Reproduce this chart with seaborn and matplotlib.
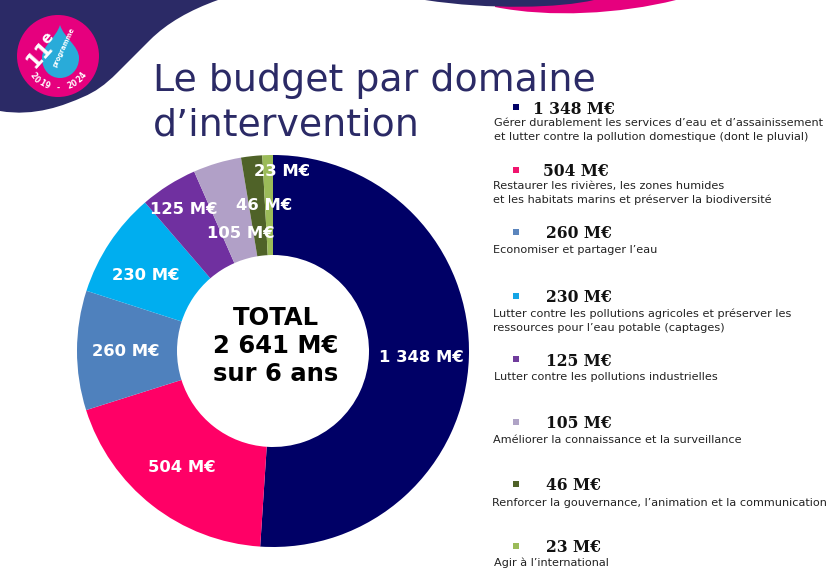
import numpy as np
import matplotlib.pyplot as plt
from matplotlib.patches import Circle, PathPatch, Rectangle
from matplotlib.path import Path
import seaborn as sns

values = [1348, 504, 260, 230, 125, 105, 46, 23]
slice_labels = ['1 348 M€', '504 M€', '260 M€', '230 M€', '125 M€', '105 M€', '46 M€', '23 M€']
slice_colors = ['#000066', '#FF0066', '#4F81BD', '#00AEEF', '#7030A0', '#B1A0C7', '#4F6228', '#9BBB59']

legend_colors = ['#000066', '#F0146E', '#5B85BD', '#14A5E6', '#703C9C', '#AFA3C6', '#4F6228', '#9BBB59']
legend_texts = [
    'Gérer durablement les services d’eau et d’assainissement\net lutter contre la pollution domestique (dont le pluvial)',
    'Restaurer les rivières, les zones humides\net les habitats marins et préserver la biodiversité',
    'Economiser et partager l’eau',
    'Lutter contre les pollutions agricoles et préserver les\nressources pour l’eau potable (captages)',
    'Lutter contre les pollutions industrielles',
    'Améliorer la connaissance et la surveillance',
    'Renforcer la gouvernance, l’animation et la communication',
    'Agir à l’international',
]

sns.set_theme(style='white')
plt.rcParams['font.family'] = 'DejaVu Sans'

W, H = 840, 575
NAVY = '#2B2A66'
PINK = '#E6007E'

fig = plt.figure(figsize=(W / 100, H / 100), dpi=100, facecolor='white')

# background layer in pixel coords, y going down
bg = fig.add_axes([0, 0, 1, 1])
bg.set_xlim(0, W)
bg.set_ylim(H, 0)
bg.axis('off')


def blob(ax, verts, color, z=1):
    codes = [Path.MOVETO] + [Path.CURVE4] * (len(verts) - 2) + [Path.CLOSEPOLY]
    ax.add_patch(PathPatch(Path(verts, codes), fc=color, ec='none', zorder=z))


# swoosh top left
blob(bg, [(0, 0), (70, 0), (150, 0), (218, 0),
          (190, 10), (167, 23), (150, 40),
          (137, 53), (128, 62), (117, 73),
          (105, 85), (95, 92), (83, 97),
          (65, 105), (35, 117), (0, 111),
          (0, 70), (0, 35), (0, 0), (0, 0)], NAVY)
# swooshes top right
blob(bg, [(495, 0), (560, 0), (620, 0), (676, 0),
          (620, 14), (550, 18), (495, 7),
          (495, 5), (495, 2), (495, 0), (495, 0)], PINK, 1)
blob(bg, [(425, 0), (480, 0), (540, 0), (594, 0),
          (560, 8), (490, 10), (425, 0),
          (425, 0), (425, 0), (425, 0), (425, 0)], NAVY, 2)

# logo
bg.add_patch(Circle((58, 56), 41, fc=PINK, ec='none', zorder=3))
blob(bg, [(60, 25), (64, 38), (79, 46), (79, 58),
          (79, 70), (70, 78), (60, 78),
          (50, 78), (42, 70), (42, 58),
          (42, 46), (56, 38), (60, 25), (60, 25)], '#29ABD9', 4)
bg.text(40, 54, '11', color='white', fontsize=15, fontweight='bold', rotation=48,
        ha='center', va='center', zorder=5)
bg.text(48, 38, 'e', color='white', fontsize=11, fontweight='bold', rotation=48,
        ha='center', va='center', zorder=5)
bg.text(64, 47, 'programme', color='white', fontsize=4.8, fontweight='bold', rotation=65,
        ha='center', va='center', zorder=5)
arc_text = '2019 - 2024'
for i, ch in enumerate(arc_text):
    a = (5 - i) * 10.5
    ar = np.radians(90 + a)
    bg.text(58 + 32 * np.cos(ar), 56 + 32 * np.sin(ar), ch, color='white', fontsize=5.5,
            fontweight='bold', rotation=-a, ha='center', va='center', zorder=5)

# title
bg.text(153, 81, 'Le budget par domaine', color=NAVY, fontsize=27.3, ha='left', va='center')
bg.text(153, 125, 'd’intervention', color=NAVY, fontsize=27.3, ha='left', va='center')

# legend
heading_x = [533, 543, 546, 546, 546, 546, 546, 546]
heading_y = [109, 172, 234, 298, 361, 424, 486, 548]
desc_x = [494, 493, 493, 493, 494, 493, 492, 494]
desc_y = [130, 193, 250, 321, 377, 440, 503, 563]
for i in range(len(slice_labels)):
    bg.add_patch(Rectangle((513, heading_y[i] - 5), 6, 6, fc=legend_colors[i], ec='none'))
    bg.text(heading_x[i], heading_y[i], slice_labels[i], family='DejaVu Serif', fontweight='bold',
            fontsize=11.2, color='#111111', ha='left', va='center')
    bg.text(desc_x[i], desc_y[i], legend_texts[i], fontsize=8.1, color='#222222', ha='left',
            va='center', linespacing=1.45)

# donut
cx, cy, r_out, r_in = 273, 351, 196, 96
ax = fig.add_axes([(cx - r_out) / W, 1 - (cy + r_out) / H, 2 * r_out / W, 2 * r_out / H])
ax.pie(values, colors=slice_colors, startangle=90, counterclock=False, radius=1,
       wedgeprops={'width': 1 - r_in / r_out, 'linewidth': 0})
ax.set_xlim(-1, 1)
ax.set_ylim(-1, 1)

# slice labels sit where the original has them, not centered in the wedge
label_px = [(421, 357), (182, 467), (126, 351), (146, 275), (184, 210), (241, 234), (264, 205), (282, 172)]
for (px, py), txt in zip(label_px, slice_labels):
    ax.text((px - cx) / r_out, (cy - py) / r_out, txt, color='white', fontsize=11.8,
            fontweight='bold', ha='center', va='center')

ax.text(3 / r_out, 5 / r_out, 'TOTAL\n2 641 M€\nsur 6 ans', color='black', fontsize=17.5,
        fontweight='bold', ha='center', va='center', linespacing=1.2)

fig.savefig('out.png', dpi=100)
